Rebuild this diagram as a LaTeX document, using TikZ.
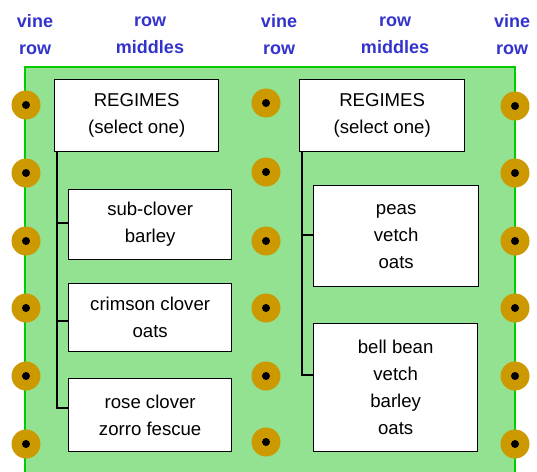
\documentclass[tikz,border=0pt]{standalone}
\usepackage{fontspec}
\setmainfont{Liberation Sans}
\definecolor{fieldgreen}{RGB}{146,226,146}
\definecolor{edgegreen}{RGB}{0,204,0}
\definecolor{vinegold}{RGB}{204,153,0}
\definecolor{labelblue}{RGB}{51,51,204}
\tikzset{
  x=1pt,y=-1pt,
  regbox/.style={draw=black,line width=1.3pt,fill=white,inner sep=0pt,anchor=north west,align=center,font=\fontsize{18.6}{27}\selectfont},
  toplabel/.style={text=labelblue,font=\bfseries\fontsize{18}{27}\selectfont,align=center},
  vine/.style={circle,fill=vinegold,minimum size=29pt,inner sep=0pt},
  vinecore/.style={circle,fill=black,minimum size=8pt,inner sep=0pt},
  bracket/.style={line width=2.2pt,black}
}
\newcommand{\vinedot}[3]{\node[vine] (#1) at (#2,#3) {}; \node[vinecore] at (#1) {};}
\begin{document}
\begin{tikzpicture}
\useasboundingbox (0,0) rectangle (537,471);
% field
\fill[fieldgreen] (25,67) rectangle (515,475);
\draw[edgegreen,line width=2pt] (25,475) -- (25,67) -- (515,67) -- (515,475);
% labels
\node[toplabel] (l1) at (35,35) {vine\\row};
\node[toplabel] (l2) at (150,35) {row\\middles};
\node[toplabel] (l3) at (279,35) {vine\\row};
\node[toplabel] (l4) at (395,35) {row\\middles};
\node[toplabel] (l5) at (512,35) {vine\\row};
% vines
\vinedot{a1}{26}{105}\vinedot{a2}{26}{173}\vinedot{a3}{26}{241}
\vinedot{a4}{26}{308}\vinedot{a5}{26}{376}\vinedot{a6}{26}{444}
\vinedot{b1}{266}{103}\vinedot{b2}{266}{172}\vinedot{b3}{266}{241}
\vinedot{b4}{266}{308}\vinedot{b5}{266}{376}\vinedot{b6}{266}{442}
\vinedot{c1}{515}{106}\vinedot{c2}{515}{173}\vinedot{c3}{515}{241}
\vinedot{c4}{515}{308}\vinedot{c5}{515}{376}\vinedot{c6}{515}{444}
% left column
\node[regbox,minimum width=164pt,minimum height=72pt] (rl) at (54,79) {REGIMES\\(select one)};
\node[regbox,minimum width=163pt,minimum height=70pt] (s1) at (68,189) {sub-clover\\barley};
\node[regbox,minimum width=163pt,minimum height=68pt] (s2) at (68,283) {crimson clover\\oats};
\node[regbox,minimum width=163pt,minimum height=73pt] (s3) at (68,378) {rose clover\\zorro fescue};
\coordinate (lt) at (57,151);
\coordinate (lb) at (57,408);
\draw[bracket] (lt) -- (lb) -- (s3.west|-lb);
\draw[bracket] (57,223) -- (s1.west|-0,223);
\draw[bracket] (57,321) -- (s2.west|-0,321);
% right column
\node[regbox,minimum width=165pt,minimum height=72pt] (rr) at (299,79) {REGIMES\\(select one)};
\node[regbox,minimum width=165pt,minimum height=101pt] (t1) at (313,185) {peas\\vetch\\oats};
\node[regbox,minimum width=164pt,minimum height=128pt] (t2) at (313,323) {bell bean\\vetch\\barley\\oats};
\coordinate (rt) at (302,151);
\coordinate (rb) at (302,375);
\draw[bracket] (rt) -- (rb) -- (t2.west|-rb);
\draw[bracket] (302,235) -- (t1.west|-0,235);
\end{tikzpicture}
\end{document}
